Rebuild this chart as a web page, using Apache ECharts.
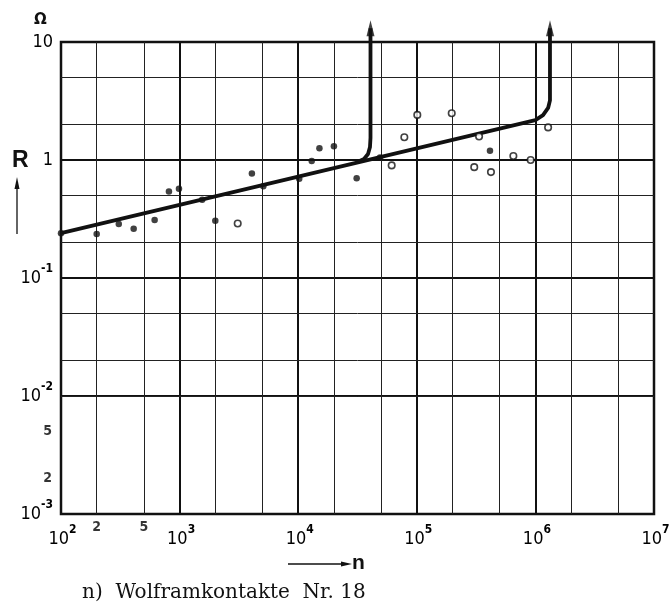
<!DOCTYPE html>
<html>
<head>
<meta charset="utf-8">
<script src="https://cdn.jsdelivr.net/npm/echarts@6/dist/echarts.min.js"></script>
<style>html,body{margin:0;padding:0;background:#fff}#c{width:670px;height:608px}</style>
</head>
<body>
<div id="c"></div>
<script>
// ---- data ----
var xDecades = [100, 1000, 10000, 100000, 1000000, 10000000];
var yDecades = [0.001, 0.01, 0.1, 1, 10];
var xMinor = [200, 500, 2000, 5000, 20000, 50000, 200000, 500000, 2000000, 5000000];
var yMinor = [0.002, 0.005, 0.02, 0.05, 0.2, 0.5, 2, 5];
var xMinorLabels = [[200, '2'], [500, '5']];
var yMinorLabels = [[0.002, '2'], [0.005, '5']];

// filled dots (n, R in Ohm)
var filledN = [100, 200, 307, 410, 616, 813, 988, 1550, 2000, 4070, 5080, 10200, 13000, 15100, 20000, 31100, 49000, 414000];
var filledR = [0.24, 0.236, 0.287, 0.262, 0.31, 0.54, 0.57, 0.46, 0.306, 0.77, 0.60, 0.695, 0.98, 1.26, 1.31, 0.70, 1.05, 1.20];
// open circles
var openN = [3090, 61400, 78500, 101000, 197000, 335000, 305000, 422000, 652000, 912000, 1280000];
var openR = [0.29, 0.90, 1.56, 2.41, 2.49, 1.58, 0.87, 0.79, 1.08, 1.00, 1.89];

// fitted line continuing into a vertical branch
var mainN = [100, 1000000, 1160000, 1280000, 1327000, 1327000];
var mainR = [0.24, 2.18, 2.40, 2.76, 3.2, 13.1];
// first vertical branch
var branchN = [31900, 35900, 38800, 40300, 40700, 40700];
var branchR = [0.967, 1.02, 1.124, 1.29, 1.54, 13.1];
// arrow heads
var arrowN = [40700, 1327000];
var arrowR = [13.1, 13.1];

function zip(a, b) { return a.map(function (v, i) { return [v, b[i]]; }); }

var chart = echarts.init(document.getElementById('c'), null, {renderer: 'canvas'});
var FONT = "'Liberation Sans Narrow','DejaVu Sans Condensed','Liberation Sans',sans-serif";
var richX = {
  b: {fontSize: 18, lineHeight: 30, fontFamily: FONT, color: '#000', padding: [0, 0, 0, 3]},
  s: {fontSize: 12, lineHeight: 12, verticalAlign: 'top', fontFamily: FONT, color: '#000', fontWeight: 'bold'}
};
var richY = {
  b: {fontSize: 18, lineHeight: 30, fontFamily: FONT, color: '#000'},
  s: {fontSize: 12, lineHeight: 12, verticalAlign: 'top', fontFamily: FONT, color: '#000', fontWeight: 'bold'}
};
function expOf(v) { return Math.round(Math.log10(v)); }

var minorLines = [];
xMinor.forEach(function (v) { minorLines.push({xAxis: v}); });
yMinor.forEach(function (v) { minorLines.push({yAxis: v}); });

var option = {
  animation: false,
  backgroundColor: '#fff',
  grid: {left: 61, top: 42, width: 593, height: 472, containLabel: false, outerBoundsMode: 'none',
         show: true, borderColor: '#111', borderWidth: 2.5, backgroundColor: 'transparent'},
  xAxis: {
    type: 'log', logBase: 10, min: xDecades[0], max: xDecades[xDecades.length - 1],
    axisLine: {show: false}, axisTick: {show: false},
    splitLine: {show: true, lineStyle: {color: '#111', width: 2}},
    axisLabel: {
      margin: 10,
      formatter: function (v) { return '{b|10}{s|' + expOf(v) + '}'; },
      rich: richX
    }
  },
  yAxis: {
    type: 'log', logBase: 10, min: yDecades[0], max: yDecades[yDecades.length - 1],
    axisLine: {show: false}, axisTick: {show: false},
    splitLine: {show: true, lineStyle: {color: '#111', width: 2}},
    axisLabel: {
      margin: 8,
      formatter: function (v) {
        var e = expOf(v);
        if (e === 1) return '{b|10}';
        if (e === 0) return '{b|1}';
        return '{b|10}{s|-' + (-e) + '}';
      },
      rich: richY
    }
  },
  series: [
    {
      type: 'line', data: [], silent: true,
      markLine: {
        silent: true, symbol: 'none', label: {show: false},
        lineStyle: {color: '#222', width: 1, type: 'solid'},
        data: minorLines
      }
    },
    {
      type: 'scatter', clip: false, silent: true, symbolSize: 0,
      data: xMinorLabels.map(function (d) { return {value: [d[0], yDecades[0]], name: d[1]}; }),
      label: {show: true, position: 'bottom', distance: 6, formatter: '{b}', fontSize: 14, fontWeight: 'bold', fontFamily: FONT, color: '#000'}
    },
    {
      type: 'scatter', clip: false, silent: true, symbolSize: 0,
      data: yMinorLabels.map(function (d) { return {value: [xDecades[0], d[0]], name: d[1]}; }),
      label: {show: true, position: 'left', distance: 9, formatter: '{b}', fontSize: 14, fontWeight: 'bold', fontFamily: FONT, color: '#000'}
    },
    {
      type: 'line', clip: false, symbol: 'none', data: zip(mainN, mainR),
      lineStyle: {color: '#111', width: 3.8}, z: 5
    },
    {
      type: 'line', clip: false, symbol: 'none', data: zip(branchN, branchR),
      lineStyle: {color: '#111', width: 3.8}, z: 5
    },
    {
      type: 'scatter', clip: false, symbol: 'triangle', symbolSize: [8, 16],
      data: zip(arrowN, arrowR), itemStyle: {color: '#111'}, z: 6
    },
    {
      type: 'scatter', clip: false, symbol: 'circle', symbolSize: 6.5,
      data: zip(filledN, filledR), itemStyle: {color: '#111'}, z: 7
    },
    {
      type: 'scatter', clip: false, symbol: 'circle', symbolSize: 6.5,
      data: zip(openN, openR), itemStyle: {color: '#fff', borderColor: '#111', borderWidth: 1.6}, z: 7
    }
  ],
  graphic: [
    {type: 'text', left: 34, top: 13, style: {text: '\u03A9', font: "bold 15px 'DejaVu Sans',sans-serif", fill: '#111'}},
    {type: 'text', left: 12, top: 149, style: {text: 'R', font: "bold 23px 'Liberation Sans',sans-serif", fill: '#111'}},
    {type: 'line', shape: {x1: 17, y1: 234, x2: 17, y2: 186}, style: {stroke: '#111', lineWidth: 1.3}},
    {type: 'polygon', shape: {points: [[17, 177], [14.5, 189], [19.5, 189]]}, style: {fill: '#111'}},
    {type: 'line', shape: {x1: 288, y1: 564, x2: 344, y2: 564}, style: {stroke: '#111', lineWidth: 1.3}},
    {type: 'polygon', shape: {points: [[352, 564], [341, 561.5], [341, 566.5]]}, style: {fill: '#111'}},
    {type: 'text', left: 352, top: 553, style: {text: 'n', font: "bold 21px 'Liberation Sans',sans-serif", fill: '#111'}},
    {type: 'text', left: 82, top: 583, style: {text: 'n)  Wolframkontakte  Nr. 18', font: "20px 'DejaVu Serif',serif", fill: '#111'}}
  ]
};
chart.setOption(option);
</script>
</body>
</html>
